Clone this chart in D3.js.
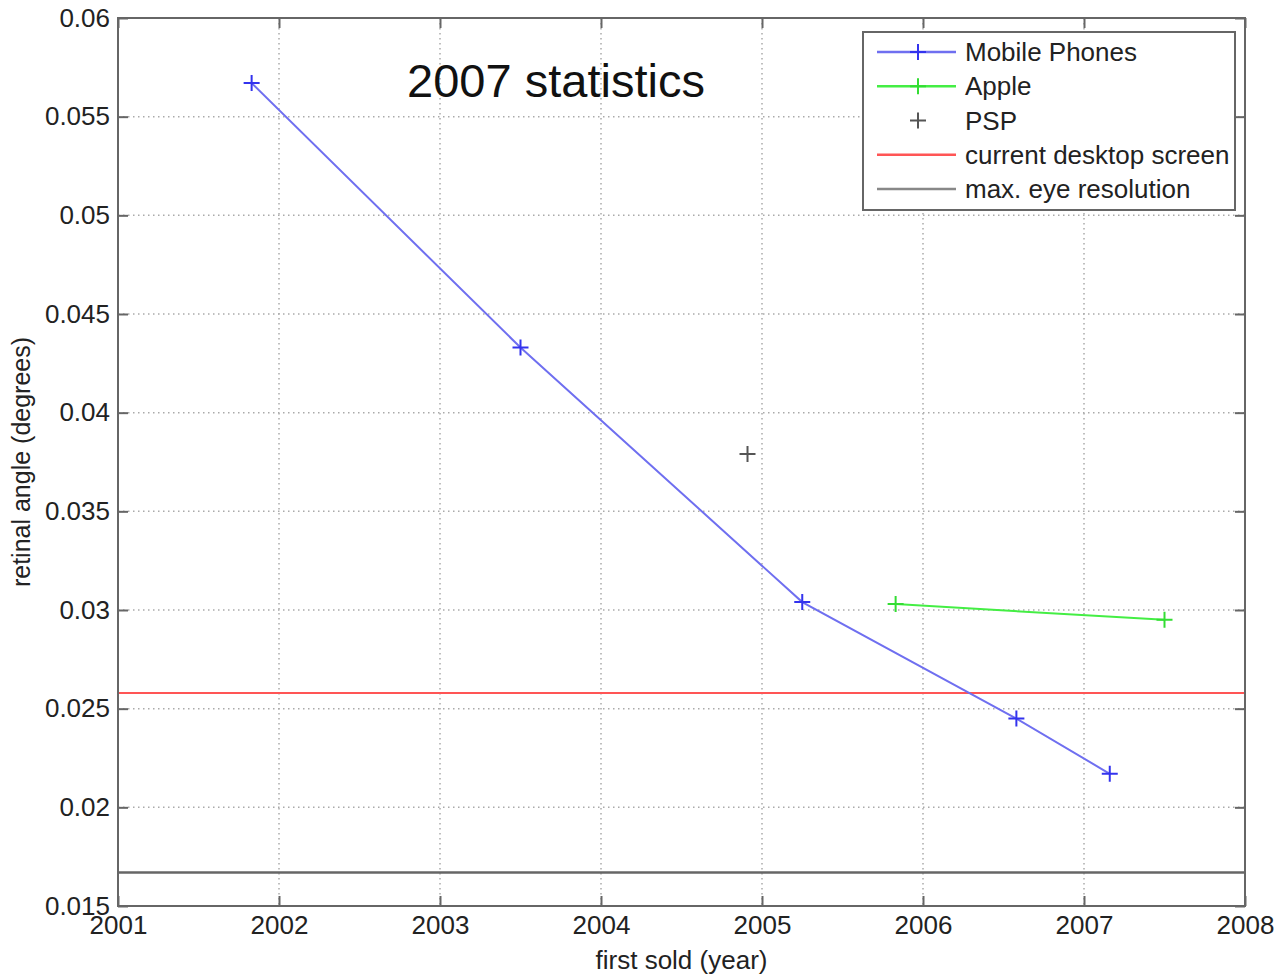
<!DOCTYPE html>
<html>
<head>
<meta charset="utf-8">
<script src="https://cdn.jsdelivr.net/npm/d3@7"></script>
<style>
body { margin: 0; background: #fff; }
text { font-family: "Liberation Sans", Arial, sans-serif; fill: #222; }
</style>
</head>
<body>
<div id="chart"></div>
<script>
// data
var phoneYears = [2001.83, 2003.50, 2005.25, 2006.58, 2007.16];
var phoneAngles = [0.0567, 0.0433, 0.0304, 0.0245, 0.0217];
var appleYears = [2005.83, 2007.50];
var appleAngles = [0.0303, 0.0295];
var pspYears = [2004.91];
var pspAngles = [0.0379];
var desktopAngle = 0.0258;
var eyeAngle = 0.0167;
var xTicks = [2001, 2002, 2003, 2004, 2005, 2006, 2007, 2008];
var yTicks = [0.015, 0.02, 0.025, 0.03, 0.035, 0.04, 0.045, 0.05, 0.055, 0.06];
var yTickLabels = ["0.015", "0.02", "0.025", "0.03", "0.035", "0.04", "0.045", "0.05", "0.055", "0.06"];
var legendNames = ["Mobile Phones", "Apple", "PSP", "current desktop screen", "max. eye resolution"];

var w = 1275, h = 975;
var pLeft = 118, pRight = 1245, pTop = 18, pBottom = 906;

var svg = d3.select("#chart").append("svg")
	.attr("width", w)
	.attr("height", h);

var x = d3.scaleLinear().domain([2001, 2008]).range([pLeft, pRight]);
var y = d3.scaleLinear().domain([0.015, 0.06]).range([pBottom, pTop]);

// grid
svg.append("g").selectAll("line")
	.data(xTicks.slice(1, -1))
	.enter().append("line")
	.attr("x1", d => x(d)).attr("x2", d => x(d))
	.attr("y1", pTop).attr("y2", pBottom)
	.style("stroke", "#aaa")
	.style("stroke-width", 1.5)
	.style("stroke-dasharray", "1.5,3.5");

svg.append("g").selectAll("line")
	.data(yTicks.slice(1, -1))
	.enter().append("line")
	.attr("x1", pLeft).attr("x2", pRight)
	.attr("y1", d => y(d)).attr("y2", d => y(d))
	.style("stroke", "#aaa")
	.style("stroke-width", 1.5)
	.style("stroke-dasharray", "1.5,3.5");

// axes (matlab style: ticks inside on all four sides)
var tickLen = 10;
var axisColor = "#666";
svg.append("g").attr("transform", "translate(0," + pBottom + ")")
	.call(d3.axisBottom(x).tickValues(xTicks).tickFormat(d3.format("d")).tickSize(-tickLen).tickPadding(10))
	.call(g => g.select(".domain").remove());
svg.append("g").attr("transform", "translate(0," + pTop + ")")
	.call(d3.axisTop(x).tickValues(xTicks).tickFormat("").tickSize(-tickLen))
	.call(g => g.select(".domain").remove());
svg.append("g").attr("transform", "translate(" + pLeft + ",0)")
	.call(d3.axisLeft(y).tickValues(yTicks).tickFormat((d, i) => yTickLabels[i]).tickSize(-tickLen).tickPadding(8))
	.call(g => g.select(".domain").remove());
svg.append("g").attr("transform", "translate(" + pRight + ",0)")
	.call(d3.axisRight(y).tickValues(yTicks).tickFormat("").tickSize(-tickLen))
	.call(g => g.select(".domain").remove());

svg.selectAll(".tick line").style("stroke", axisColor).style("stroke-width", 2);
svg.selectAll(".tick text")
	.style("font-size", "26px")
	.style("font-family", "'Liberation Sans', Arial, sans-serif")
	.style("fill", "#222");

// reference lines
svg.append("line")
	.attr("x1", pLeft).attr("x2", pRight)
	.attr("y1", y(desktopAngle)).attr("y2", y(desktopAngle))
	.style("stroke", "#ff5555").style("stroke-width", 2);
svg.append("line")
	.attr("x1", pLeft).attr("x2", pRight)
	.attr("y1", y(eyeAngle)).attr("y2", y(eyeAngle))
	.style("stroke", "#666").style("stroke-width", 2.5);

// series
var line = d3.line().x(d => x(d[0])).y(d => y(d[1]));

function plus(g, pts, color) {
	g.selectAll("path.mk")
		.data(pts)
		.enter().append("path")
		.attr("class", "mk")
		.attr("d", d => "M" + (x(d[0]) - 8) + "," + y(d[1]) + "h16M" + x(d[0]) + "," + (y(d[1]) - 8) + "v16")
		.style("stroke", color)
		.style("stroke-width", 2)
		.style("fill", "none");
}

var phones = d3.zip(phoneYears, phoneAngles);
var apple = d3.zip(appleYears, appleAngles);
var psp = d3.zip(pspYears, pspAngles);

var gp = svg.append("g");
gp.append("path").datum(phones).attr("d", line)
	.style("fill", "none").style("stroke", "#6f6ff0").style("stroke-width", 2);
plus(gp, phones, "#3333ee");

var ga = svg.append("g");
ga.append("path").datum(apple).attr("d", line)
	.style("fill", "none").style("stroke", "#44ee44").style("stroke-width", 2);
plus(ga, apple, "#33dd33");

var gs = svg.append("g");
plus(gs, psp, "#555");

// plot box
svg.append("rect")
	.attr("x", pLeft).attr("y", pTop)
	.attr("width", pRight - pLeft).attr("height", pBottom - pTop)
	.style("fill", "none").style("stroke", axisColor).style("stroke-width", 2);

// title
svg.append("text")
	.attr("x", 556).attr("y", 97)
	.attr("text-anchor", "middle")
	.style("font-size", "47px")
	.style("fill", "#111")
	.text("2007 statistics");

// axis labels
svg.append("text")
	.attr("x", (pLeft + pRight) / 2).attr("y", 969)
	.attr("text-anchor", "middle")
	.style("font-size", "26px")
	.text("first sold (year)");
svg.append("text")
	.attr("transform", "translate(30," + ((pTop + pBottom) / 2) + ") rotate(-90)")
	.attr("text-anchor", "middle")
	.style("font-size", "25px")
	.text("retinal angle (degrees)");

// legend
var lg = svg.append("g");
lg.append("rect")
	.attr("x", 863).attr("y", 32)
	.attr("width", 372).attr("height", 178)
	.style("fill", "#fff").style("stroke", axisColor).style("stroke-width", 2);

var legendColors = ["#6f6ff0", "#44ee44", null, "#ff5555", "#888"];
var legendMarks = ["#3333ee", "#33dd33", "#555", null, null];
var rowY = d3.scalePoint().domain(legendNames).range([52, 189]);

legendNames.forEach(function(name, i) {
	var yy = rowY(name);
	if (legendColors[i]) {
		lg.append("line")
			.attr("x1", 877).attr("x2", 956)
			.attr("y1", yy).attr("y2", yy)
			.style("stroke", legendColors[i]).style("stroke-width", 2.5);
	}
	if (legendMarks[i]) {
		lg.append("path")
			.attr("d", "M910," + yy + "h16M918," + (yy - 8) + "v16")
			.style("stroke", legendMarks[i]).style("stroke-width", 2).style("fill", "none");
	}
	lg.append("text")
		.attr("x", 965).attr("y", yy + 9)
		.style("font-size", "26px")
		.text(name);
});
</script>
</body>
</html>
